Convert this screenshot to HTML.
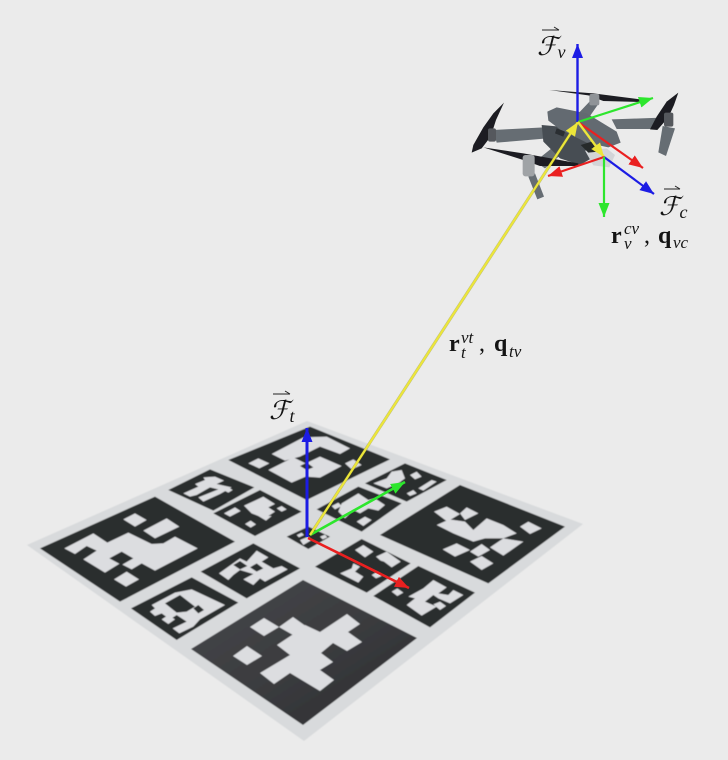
<!DOCTYPE html>
<html><head><meta charset="utf-8"><title>Drone and target frames</title>
<style>
html,body{margin:0;padding:0;background:#ebebeb;width:728px;height:760px;overflow:hidden}
svg{display:block}
.m{font-family:"Liberation Serif","DejaVu Serif",serif;fill:#141414}
.w{fill:#dcdde0}
.k{fill:#2c2d2f}
</style></head><body>
<svg width="728" height="760" viewBox="0 0 728 760" xmlns="http://www.w3.org/2000/svg">
<defs>
<filter id="soft" x="-5%" y="-5%" width="110%" height="110%"><feGaussianBlur stdDeviation="0.45"/></filter>
<linearGradient id="bottomShade" x1="0" y1="0" x2="1" y2="1"><stop offset="0" stop-color="#48494c"/><stop offset=".55" stop-color="#3a3b3e"/><stop offset="1" stop-color="#2b2c2e"/></linearGradient>
<marker id="hb" markerUnits="userSpaceOnUse" markerWidth="16" markerHeight="12" refX="14" refY="6" orient="auto"><path d="M0 .5L14 6L0 11.5z" fill="#1c1ce4"/></marker>
<marker id="hg" markerUnits="userSpaceOnUse" markerWidth="16" markerHeight="12" refX="14" refY="6" orient="auto"><path d="M0 .5L14 6L0 11.5z" fill="#2de62d"/></marker>
<marker id="hr" markerUnits="userSpaceOnUse" markerWidth="16" markerHeight="12" refX="14" refY="6" orient="auto"><path d="M0 .5L14 6L0 11.5z" fill="#ea2020"/></marker>
<marker id="hy" markerUnits="userSpaceOnUse" markerWidth="16" markerHeight="12" refX="14" refY="6" orient="auto"><path d="M0 .5L14 6L0 11.5z" fill="#ece63a"/></marker>
</defs>
<rect width="728" height="760" fill="#ebebeb"/>

<g filter="url(#soft)">
<polygon points="307,421 583,524 304,741 27,545" fill="#d8dadc"/>

<g transform="translate(20,480) scale(.33333)">
<g>
<polygon class="k" points="60,205 405,50 645,185 300,365"/>
<polygon class="w" points="133,205 220,160 262,188 325,158 395,192 430,190 465,170 533,205 405,272 365,250 335,268 300,250 255,278 190,238 230,212 200,198 165,222"/>
<polygon class="w" points="370,152 440,115 478,140 405,175"/>
<polygon class="k" points="268,235 305,215 340,235 305,255"/>
<polygon class="w" points="282,298 320,275 357,298 318,320"/>
<polygon class="w" points="310,118 345,100 380,120 345,140"/>
</g>
<g>
<polygon class="k" points="580,100 720,30 845,95 705,168"/>
<polygon class="w" points="612,100 645,82 662,93 630,110"/>
<polygon class="w" points="672,77 730,50 765,72 745,82 765,95 745,108 755,108 738,122 715,108 695,100"/>
<polygon class="w" points="770,85 785,78 800,88 785,95"/>
<polygon class="w" points="675,132 692,122 708,133 692,143"/>
</g>
<g>
<polygon class="k" points="542,275 700,190 840,265 680,355"/>
<polygon class="w" points="597,280 660,235 680,245 710,212 745,232 725,245 760,265 785,258 803,268 735,305 720,295 700,315 670,298 700,282 660,270 640,285 625,300"/>
<polygon class="k" points="640,255 660,243 682,258 660,268"/>
<polygon class="k" points="690,262 710,250 730,265 710,275"/>
</g>
<g>
<polygon class="k" points="333,385 515,292 655,368 470,480"/>
<polygon class="w" points="390,395 405,385 395,375 465,338 515,328 615,375 540,418 520,440 478,460 458,445 500,425 470,405 450,418 425,400 405,408"/>
<polygon class="k" points="435,370 480,345 525,380 500,395 470,398"/>
<polygon class="k" points="520,385 535,375 552,390 535,400"/>
<polygon class="w" points="425,418 445,405 465,418 445,432"/>
</g>
</g>

<g>
<polygon fill="url(#bottomShade)" points="191,649 303,580 417,638 303,725"/>
<polygon class="w" points="250,627 264,618 279,627 264,636"/>
<polygon class="w" points="279,627 293,617 307,627 293,635"/>
<polygon class="w" points="233,656 247,646 262,656 247,665"/>
<polygon class="w" points="260,673 290,655 277,645 292,635 305,625 320,632 347,614 360,624 348,632 362,642 347,651 333,643 321,653 333,662 320,670 334,680 320,691 290,673 274,684"/>
</g>

<g transform="translate(160,380) scale(.33333)">
<g>
<polygon class="k" points="205,240 450,140 690,238 440,360"/>
<polygon class="w" points="335,222 430,172 500,170 570,205 540,222 480,200 420,230 375,242"/>
<polygon class="w" points="265,250 295,235 328,250 298,265"/>
<polygon class="w" points="325,270 400,232 437,250 480,230 545,258 480,293 437,290 395,308"/>
<polygon class="k" points="420,258 440,248 460,262 440,270"/>
<polygon class="w" points="555,250 580,238 605,255 575,268"/>
</g>
<g>
<polygon class="k" points="25,330 150,268 283,322 160,392"/>
<polygon class="w" points="70,340 115,320 105,312 135,300 130,292 165,290 192,302 170,312 215,322 180,342 130,365 115,352 175,328 150,322 110,345 90,350"/>
<polygon class="w" points="190,330 205,322 218,330 205,338"/>
</g>
<g>
<polygon class="k" points="380,470 445,440 510,470 445,507"/>
<polygon class="w" points="410,465 425,458 432,465 417,472"/>
<polygon class="w" points="420,480 445,470 455,480 430,495"/>
<polygon class="w" points="480,470 495,464 502,472 488,478"/>
</g>
</g>

<g transform="translate(290,470) scale(.33333)">
<g>
<polygon class="k" points="80,118 205,50 335,100 215,185"/>
<polygon class="w" points="155,100 205,70 235,90 255,85 285,105 265,122 235,115 210,130 190,120 165,145 145,125"/>
<polygon class="w" points="125,108 145,98 155,108 135,118"/>
<polygon class="w" points="200,155 225,140 245,150 220,168"/>
</g>
<g>
<polygon class="k" points="225,40 345,-20 470,30 350,95"/>
<polygon class="w" points="250,40 290,25 305,5 335,0 345,25 325,40 290,55"/>
<polygon class="w" points="350,70 370,60 380,70 360,78"/>
<polygon class="w" points="385,55 425,30 440,35 400,62"/>
<polygon class="w" points="360,15 380,5 395,20 375,28"/>
</g>
<g>
<polygon class="k" points="270,195 510,45 825,170 595,340"/>
<polygon class="w" points="432,125 470,110 510,132 472,155"/>
<polygon class="w" points="510,130 530,112 565,130 525,150"/>
<polygon class="w" points="440,165 478,148 525,155 550,180 590,145 640,165 680,190 640,205 700,215 640,257 600,232 640,205 585,205 550,215 490,190"/>
<polygon class="w" points="690,170 715,155 755,175 720,192"/>
<polygon class="w" points="458,238 500,220 540,240 495,260"/>
<polygon class="w" points="540,245 575,222 600,240 565,260"/>
<polygon class="w" points="540,275 575,258 610,280 575,300"/>
</g>
<g>
<polygon class="k" points="75,290 215,207 362,280 230,368"/>
<polygon class="w" points="195,240 220,225 250,245 225,262"/>
<polygon class="w" points="258,260 290,245 332,275 305,292 282,275 272,272"/>
<polygon class="w" points="150,310 185,295 190,280 210,290 195,305 220,320 205,338"/>
<polygon class="w" points="245,315 262,305 275,318 258,325"/>
</g>
<g>
<polygon class="k" points="250,378 385,288 555,368 420,472"/>
<polygon class="w" points="305,365 322,355 340,368 322,378"/>
<polygon class="w" points="355,380 400,355 430,330 470,352 445,370 475,375 490,360 520,375 480,400 445,385 430,375 405,395 440,410 395,437 350,405 375,385"/>
<polygon class="w" points="430,403 450,395 468,408 450,420"/>
</g>
</g>
</g>

<g transform="translate(460,20) scale(.33333)" filter="url(#soft)">
<g fill="#666d73">
<polygon points="100,330 252,322 262,355 110,368"/>
<polygon points="455,298 605,293 580,327 470,327"/>
<polygon points="355,280 395,238 415,252 385,295"/>
<polygon points="225,425 300,365 325,385 255,445"/>
<polygon points="205,470 225,460 252,530 232,538"/>
<polygon points="608,318 645,325 618,408 595,397"/>
</g>
<g>
<polygon fill="#474d52" points="245,315 300,320 390,365 420,400 360,435 300,415 250,365"/>
<polygon fill="#646b71" points="262,275 290,262 380,280 470,335 482,368 445,382 380,368 300,328 265,302"/>
<polygon fill="#d2d4d7" points="375,392 440,385 465,405 448,442 400,436"/>
<polygon fill="#26292c" points="362,375 395,365 415,395 385,398"/>
<polygon fill="#2a2d30" points="290,325 315,335 310,350 285,340"/>
</g>
<g fill="#1c1e20">
<polygon points="268,210 400,220 540,238 540,246 430,243 385,226"/>
<polygon points="132,248 108,300 92,350 65,385 35,398 40,375 70,322 100,280"/>
<polygon points="655,218 642,255 625,292 592,330 570,328 590,290 620,245"/>
<polygon points="70,382 190,400 355,430 355,438 240,438 190,420"/>
</g>
<g>
<rect x="388" y="222" width="30" height="34" rx="6" fill="#8f9397"/>
<rect x="84" y="325" width="24" height="40" rx="6" fill="#55595d"/>
<rect x="612" y="278" width="28" height="42" rx="6" fill="#55595d"/>
<rect x="188" y="405" width="36" height="64" rx="8" fill="#a0a3a6"/>
</g>
</g>

<g fill="none">
<line x1="307" y1="537" x2="307" y2="428" stroke="#1c1ce4" stroke-width="3" marker-end="url(#hb)"/>
<line x1="310" y1="535" x2="405" y2="482" stroke="#2de62d" stroke-width="2.6" marker-end="url(#hg)"/>
<line x1="308" y1="538" x2="409" y2="588" stroke="#ea2020" stroke-width="2.6" marker-end="url(#hr)"/>
</g>
<line x1="310" y1="535" x2="578" y2="122" stroke="#8c8a20" stroke-width="3" opacity=".55"/>
<line x1="310" y1="535" x2="578" y2="122" stroke="#ece63a" stroke-width="2.2" marker-end="url(#hy)"/>

<g fill="none">
<line x1="577.5" y1="122" x2="577.5" y2="44" stroke="#1c1ce4" stroke-width="2.4" marker-end="url(#hb)"/>
<line x1="578" y1="122" x2="653" y2="98" stroke="#2de62d" stroke-width="2.2" marker-end="url(#hg)"/>
<line x1="578" y1="122" x2="643" y2="168" stroke="#ea2020" stroke-width="2.2" marker-end="url(#hr)"/>
<line x1="578" y1="122" x2="604" y2="157" stroke="#ece63a" stroke-width="2.4" marker-end="url(#hy)"/>
</g>
<g fill="none">
<line x1="604" y1="157" x2="548" y2="176" stroke="#ea2020" stroke-width="2.2" marker-end="url(#hr)"/>
<line x1="604" y1="157" x2="654" y2="194" stroke="#1c1ce4" stroke-width="2.2" marker-end="url(#hb)"/>
<line x1="604" y1="157" x2="604" y2="217" stroke="#2de62d" stroke-width="2.2" marker-end="url(#hg)"/>
</g>

<g>
<path d="M542 30H559M554 27L559 30" fill="none" stroke="#222" stroke-width="1"/>
<text class="m" x="537" y="55" font-size="26" font-style="italic">ℱ<tspan font-size="18" dy="3">v</tspan></text>
</g>
<g>
<path d="M664 189H680M675 186L680 189" fill="none" stroke="#222" stroke-width="1"/>
<text class="m" x="659" y="215" font-size="26" font-style="italic">ℱ<tspan font-size="18" dy="3">c</tspan></text>
</g>
<g>
<path d="M273 394H290M285 391L290 394" fill="none" stroke="#222" stroke-width="1"/>
<text class="m" x="269" y="419" font-size="26" font-style="italic">ℱ<tspan font-size="18" dy="3">t</tspan></text>
</g>
<g>
<text class="m" x="611" y="243" font-size="24" font-weight="bold">r</text>
<text class="m" x="624" y="234" font-size="17" font-style="italic">cv</text>
<text class="m" x="624" y="249" font-size="17" font-style="italic">v</text>
<text class="m" x="644" y="243" font-size="24">,</text>
<text class="m" x="658" y="243" font-size="24" font-weight="bold">q</text>
<text class="m" x="673" y="248" font-size="17" font-style="italic">vc</text>
</g>
<g>
<text class="m" x="449" y="351" font-size="24" font-weight="bold">r</text>
<text class="m" x="461" y="343" font-size="17" font-style="italic">vt</text>
<text class="m" x="461" y="358" font-size="17" font-style="italic">t</text>
<text class="m" x="479" y="351" font-size="24">,</text>
<text class="m" x="494" y="351" font-size="24" font-weight="bold">q</text>
<text class="m" x="509" y="357" font-size="17" font-style="italic">tv</text>
</g>
</svg>
</body></html>
